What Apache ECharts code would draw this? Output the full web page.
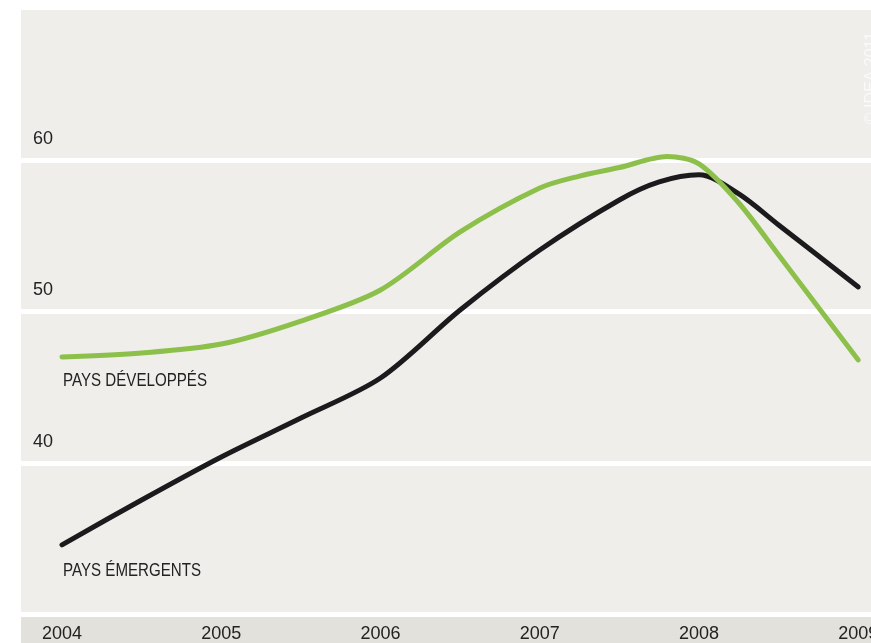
<!DOCTYPE html>
<html>
<head>
<meta charset="utf-8">
<script src="https://cdn.jsdelivr.net/npm/echarts@6/dist/echarts.min.js"></script>
<style>
  html, body { margin: 0; padding: 0; background: #ffffff; overflow: hidden; }
  #chart { width: 871px; height: 643px; }
</style>
</head>
<body>
<div id="chart"></div>
<script>
// Readings per series: dates (in years) and index values
const developpesDates = [2004, 2004.5, 2005, 2005.5, 2006, 2006.5, 2007, 2007.25,
                         2007.5, 2007.8, 2008, 2008.25, 2008.5, 2009];
const developpesValues = [47.0, 47.26, 47.85, 49.37, 51.42, 55.25, 58.15, 58.94,
                          59.5, 60.23, 59.74, 57.16, 53.73, 46.8];
const emergentsDates = [2004, 2004.5, 2005, 2005.5, 2006, 2006.5, 2007, 2007.5,
                        2007.75, 2008, 2008.25, 2008.5, 2009];
const emergentsValues = [34.6, 37.56, 40.40, 42.97, 45.61, 50.10, 54.06, 57.36,
                         58.55, 59.02, 57.76, 55.71, 51.62];
const yearTicks = [2004, 2005, 2006, 2007, 2008, 2009];
const seriesNames = ['PAYS DÉVELOPPÉS', 'PAYS ÉMERGENTS'];

const pairs = (xs, ys) => xs.map((x, i) => [x, ys[i]]);

const chart = echarts.init(document.getElementById('chart'), null, { renderer: 'canvas' });

const labelFont = '18px "Liberation Sans", Arial, sans-serif';

chart.setOption({
  animation: false,
  backgroundColor: '#ffffff',
  grid: {
    left: 21, right: 0, top: 10, bottom: 28.5,
    outerBoundsMode: 'none',
    containLabel: false,
    show: true, backgroundColor: '#efeeeb', borderWidth: 0
  },
  xAxis: {
    type: 'value',
    min: 2003.7425,
    max: 2009.08,
    axisLine: { show: false },
    axisTick: { show: false },
    splitLine: { show: false },
    axisLabel: {
      customValues: yearTicks,
      formatter: v => String(v),
      color: '#222222',
      fontSize: 18,
      fontFamily: '"Liberation Sans", Arial, sans-serif',
      margin: 11
    }
  },
  yAxis: {
    type: 'value',
    min: 30,
    max: 69.9,
    interval: 10,
    axisLine: { show: false },
    axisTick: { show: false },
    splitLine: {
      show: true,
      showMaxLine: false,
      lineStyle: { color: '#ffffff', width: 5 }
    },
    axisLabel: {
      inside: true,
      showMinLabel: false,
      showMaxLabel: false,
      margin: 12,
      align: 'left',
      verticalAlign: 'bottom',
      padding: [0, 0, 12, 0],
      color: '#222222',
      fontSize: 18,
      fontFamily: '"Liberation Sans", Arial, sans-serif'
    }
  },
  graphic: [
    {
      type: 'rect', z: -1,
      shape: { x: 21, y: 617, width: 850, height: 26 },
      style: { fill: '#e3e1dc' }
    },
    {
      type: 'text', x: 63, y: 381, scaleX: 0.84, z: 10,
      style: { text: seriesNames[0], font: labelFont, fill: '#222222', verticalAlign: 'middle' }
    },
    {
      type: 'text', x: 63, y: 571, scaleX: 0.84, z: 10,
      style: { text: seriesNames[1], font: labelFont, fill: '#222222', verticalAlign: 'middle' }
    },
    {
      type: 'text', x: 872, y: 78, rotation: Math.PI / 2, z: 10,
      style: {
        text: '© IDEA 2011', font: '16px "Liberation Sans", Arial, sans-serif',
        fill: 'rgba(255,255,255,0.7)', align: 'center', verticalAlign: 'middle'
      }
    }
  ],
  series: [
    {
      name: seriesNames[0],
      type: 'line',
      data: pairs(developpesDates, developpesValues),
      smooth: 0.3,
      showSymbol: false,
      lineStyle: { color: '#8cc04b', width: 5, cap: 'round', join: 'round' },
      z: 3
    },
    {
      name: seriesNames[1],
      type: 'line',
      data: pairs(emergentsDates, emergentsValues),
      smooth: 0.3,
      showSymbol: false,
      lineStyle: { color: '#1b1a1d', width: 5, cap: 'round', join: 'round' },
      z: 2
    }
  ]
});
</script>
</body>
</html>
